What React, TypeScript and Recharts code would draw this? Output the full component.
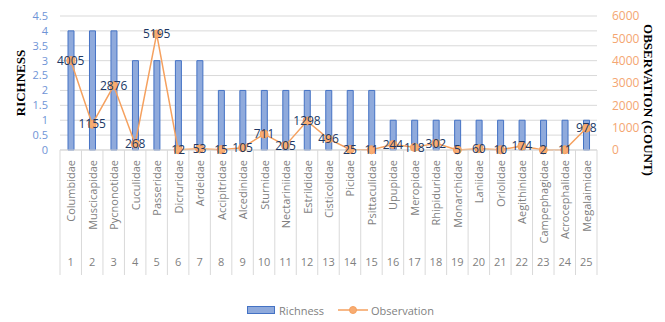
import { ComposedChart, Bar, Line, XAxis, YAxis, CartesianGrid, Legend, LabelList } from 'recharts'

const families = [
  'Columbidae', 'Muscicapidae', 'Pycnonotidae', 'Cuculidae', 'Passeridae', 'Dicruridae', 'Ardeidae',
  'Accipitridae', 'Alcedinidae', 'Sturnidae', 'Nectariniidae', 'Estrildidae', 'Cisticolidae', 'Picidae',
  'Psittaculidae', 'Upupidae', 'Meropidae', 'Rhipiduridae', 'Monarchidae', 'Laniidae', 'Oriolidae',
  'Aegithinidae', 'Campephagidae', 'Acrocephalidae', 'Megalaimidae',
]
const richness = [4, 4, 4, 3, 3, 3, 3, 2, 2, 2, 2, 2, 2, 2, 2, 1, 1, 1, 1, 1, 1, 1, 1, 1, 1]
const observation = [4005, 1155, 2876, 268, 5195, 12, 53, 15, 105, 711, 205, 1298, 496, 25, 11, 244, 118, 302, 5, 60, 10, 174, 2, 11, 978]
const richnessTicks = [0, 0.5, 1, 1.5, 2, 2.5, 3, 3.5, 4, 4.5]
const obsTicks = [0, 1000, 2000, 3000, 4000, 5000, 6000]

const data = families.map((name, i) => ({
  name,
  idx: i + 1,
  richness: richness[i],
  observation: observation[i],
}))

const font = '"Open Sans", Calibri, sans-serif'
const band = 537 / families.length

function FamilyTick(props: any) {
  const { x, y, payload, index } = props
  const half = band / 2
  return (
    <g>
      <line x1={x - half} y1={y - 8} x2={x - half} y2={y + 117} stroke="#D9D9D9" />
      {index === families.length - 1 && (
        <line x1={x + half} y1={y - 8} x2={x + half} y2={y + 117} stroke="#D9D9D9" />
      )}
      <text
        transform={`translate(${x},${y + 2}) rotate(-90)`}
        textAnchor="end"
        dominantBaseline="central"
        fontSize={11}
        fontFamily={font}
        fill="#7F7F7F"
      >
        {payload.value}
      </text>
      <text x={x} y={y + 108} textAnchor="middle" fontSize={11} fontFamily={font} fill="#7F7F7F">
        {index + 1}
      </text>
    </g>
  )
}

function LegendBox() {
  return (
    <div style={{ display: 'flex', justifyContent: 'center', alignItems: 'center', height: 24, fontFamily: font, fontSize: 11, color: '#7F7F7F', paddingLeft: 8 }}>
      <span style={{ display: 'inline-block', width: 26, height: 6, background: '#8FAADC', border: '1px solid #4472C4', marginRight: 4 }} />
      <span style={{ marginRight: 14 }}>Richness</span>
      <svg width={30} height={10} style={{ marginRight: 3 }}>
        <line x1={0} y1={5} x2={30} y2={5} stroke="#F5A15F" strokeWidth={1.5} />
        <circle cx={15} cy={5} r={3.5} fill="#F8AC72" stroke="#F5A15F" />
      </svg>
      <span>Observation</span>
    </div>
  )
}

export default function App() {
  return (
    <ComposedChart width={657} height={314} data={data} margin={{ top: 8, right: 0, left: 0, bottom: 0 }}>
      <CartesianGrid yAxisId="left" vertical={false} stroke="#D9D9D9" />
      <XAxis
        dataKey="name"
        interval={0}
        height={148}
        tickLine={false}
        axisLine={{ stroke: '#D9D9D9' }}
        tick={<FamilyTick />}
      />
      <YAxis
        yAxisId="left"
        width={52}
        domain={[0, 4.5]}
        ticks={richnessTicks}
        interval={0}
        tickLine={false}
        axisLine={false}
        tickMargin={6}
        tick={{ fontSize: 11, fill: '#6F94D6', fontFamily: font }}
        label={{
          content: (p: any) => {
            const vb = p.viewBox
            const cx = 12
            const cy = vb.y + vb.height / 2
            return (
              <text transform={`translate(${cx},${cy}) rotate(-90)`} textAnchor="middle" dominantBaseline="central"
                fontFamily='"Liberation Serif", serif' fontWeight="bold" fontSize={13} fill="#000">
                RICHNESS
              </text>
            )
          },
        }}
      />
      <YAxis
        yAxisId="right"
        orientation="right"
        width={68}
        domain={[0, 6000]}
        ticks={obsTicks}
        interval={0}
        tickLine={false}
        axisLine={false}
        tickMargin={9}
        tick={{ fontSize: 12, fill: '#F4A672', fontFamily: font }}
        label={{
          content: (p: any) => {
            const vb = p.viewBox
            const cx = vb.x + 51
            const cy = 92
            return (
              <text transform={`translate(${cx},${cy}) rotate(90)`} textAnchor="middle" dominantBaseline="central"
                fontFamily='"Liberation Serif", serif' fontWeight="bold" fontSize={13} fill="#000">
                OBSERVATION (COUNT)
              </text>
            )
          },
        }}
      />
      <Legend verticalAlign="bottom" height={24} content={<LegendBox />} />
      <Bar yAxisId="left" dataKey="richness" name="Richness" barSize={6} fill="#8FAADC" stroke="#4472C4" strokeWidth={1} isAnimationActive={false} />
      <Line
        yAxisId="right"
        dataKey="observation"
        name="Observation"
        stroke="#F5A15F"
        strokeWidth={1.5}
        dot={{ r: 4, fill: '#F8AC72', stroke: '#F5A15F', strokeWidth: 1 }}
        isAnimationActive={false}
      >
        <LabelList dataKey="observation" position="center" fontSize={12} fill="#203864" fontFamily={font} />
      </Line>
    </ComposedChart>
  )
}
